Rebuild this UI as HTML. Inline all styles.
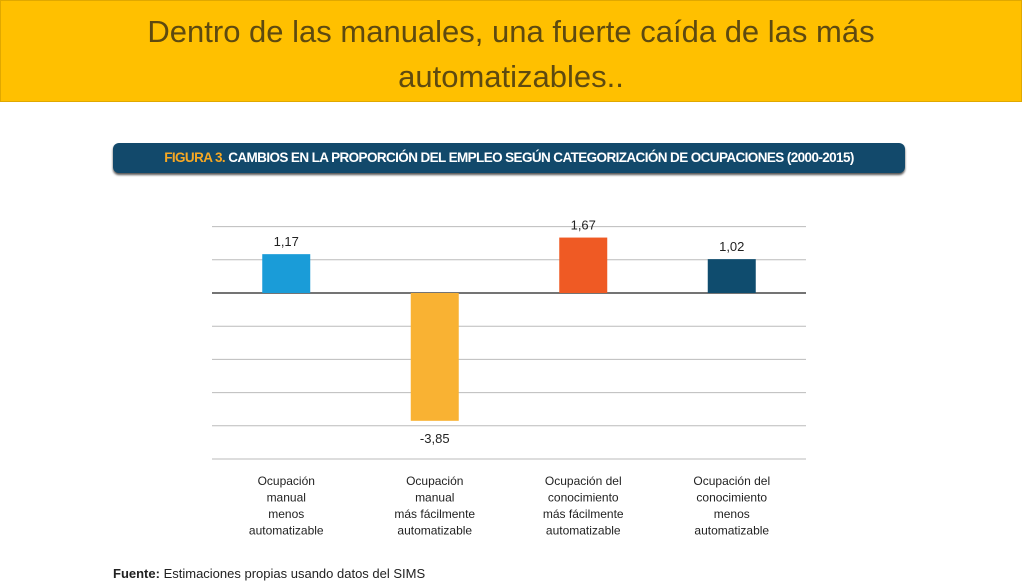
<!DOCTYPE html>
<html><head><meta charset="utf-8"><style>
body{margin:0;width:1024px;height:576px;overflow:hidden;background:#fff;font-family:"Liberation Sans",sans-serif;position:relative}
#title{position:absolute;left:0;top:0;width:1022px;height:102px;background:#FFC000;border:1px solid #e0a800;color:#5e4a10;font-size:31px;text-align:center;line-height:45px;padding-top:8px;box-sizing:border-box}
#fig{position:absolute;left:113px;top:143px;width:792px;height:30px;background:#12496b;border-radius:6px;box-shadow:0 2px 2px #555;color:#fff;font-weight:bold;font-size:13.5px;line-height:30px;text-align:center;letter-spacing:-0.6px}
#fig span{color:#f7a823}
#src{position:absolute;left:113px;top:566px;font-size:13px;color:#222}
</style></head><body>
<div id="title">Dentro de las manuales, una fuerte caída de las más<br>automatizables..</div>
<div id="fig"><span>FIGURA 3.</span> CAMBIOS EN LA PROPORCIÓN DEL EMPLEO SEGÚN CATEGORIZACIÓN DE OCUPACIONES (2000-2015)</div>
<svg id="chart" width="1024" height="576" style="position:absolute;left:0;top:0"></svg>
<div id="src"><b>Fuente:</b> Estimaciones propias usando datos del SIMS</div>
<script>
const categories=[["Ocupación","manual","menos","automatizable"],["Ocupación","manual","más fácilmente","automatizable"],["Ocupación del","conocimiento","más fácilmente","automatizable"],["Ocupación del","conocimiento","menos","automatizable"]];
const values=[1.17,-3.85,1.67,1.02];
const valueLabels=["1,17","-3,85","1,67","1,02"];
const colors=["#1a9cd8","#f9b233","#ef5a24","#0f4c6e"];
const gridVals=[2,1,0,-1,-2,-3,-4,-5];
const svg=document.getElementById('chart');const NS="http://www.w3.org/2000/svg";
const x0=212,x1=806,zeroY=293,unit=33.2;
const y=v=>zeroY-v*unit;
const band=(x1-x0)/values.length;
function el(t,a){const e=document.createElementNS(NS,t);for(const k in a)e.setAttribute(k,a[k]);svg.appendChild(e);return e;}
gridVals.forEach(g=>{const l=el('line',{x1:x0,x2:x1,y1:y(g),y2:y(g),stroke:g===0?'#222':'#bbb','stroke-width':g===0?1.3:1});

});
values.forEach((v,i)=>{const cx=x0+band*(i+0.5);
const r=el('rect',{x:cx-24,width:48,y:Math.min(y(v),zeroY),height:Math.abs(y(v)-zeroY),fill:colors[i]});


const t=el('text',{x:cx,y:v>=0?y(v)-8:y(v)+22,'text-anchor':'middle','font-size':13,fill:'#222'});t.textContent=valueLabels[i];


categories[i].forEach((s,j)=>{const c=el('text',{x:cx,y:485+j*16.5,'text-anchor':'middle','font-size':12,fill:'#222'});c.textContent=s;

});
});
</script>
</body></html>
